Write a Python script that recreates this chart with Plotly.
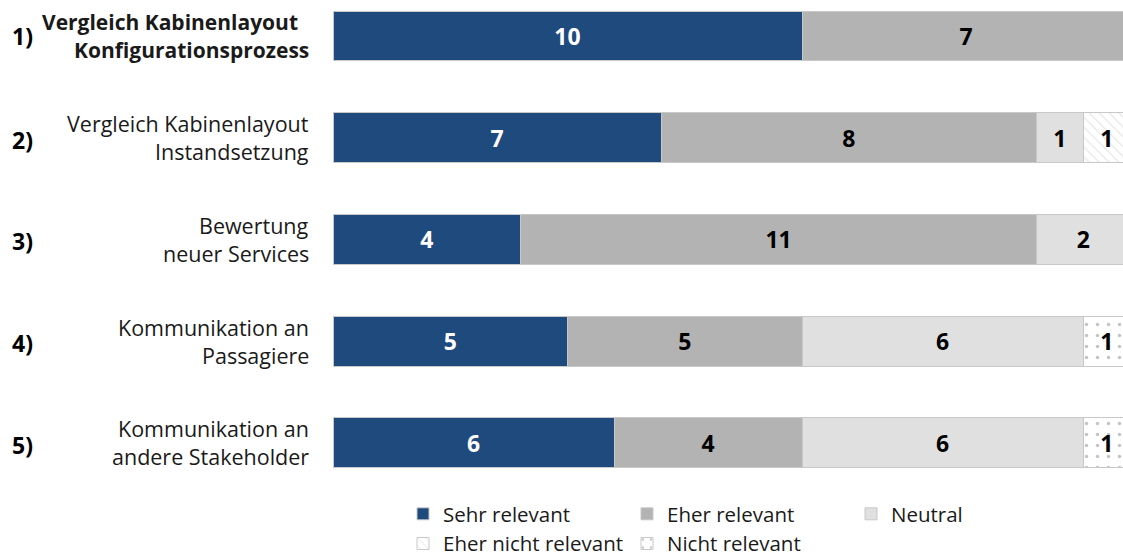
import plotly.graph_objects as go

numbers = ["1)", "2)", "3)", "4)", "5)"]
label_line1 = ["Vergleich Kabinenlayout", "Vergleich Kabinenlayout", "Bewertung",
               "Kommunikation an", "Kommunikation an"]
label_line2 = ["Konfigurationsprozess", "Instandsetzung", "neuer Services",
               "Passagiere", "andere Stakeholder"]

series_names = ["Sehr relevant", "Eher relevant", "Neutral",
                "Eher nicht relevant", "Nicht relevant"]
sehr_relevant = [10, 7, 4, 5, 6]
eher_relevant = [7, 8, 11, 5, 4]
neutral = [0, 1, 2, 6, 6]
eher_nicht_relevant = [0, 1, 0, 0, 0]
nicht_relevant = [0, 0, 0, 1, 1]
values = [sehr_relevant, eher_relevant, neutral, eher_nicht_relevant, nicht_relevant]

colors = ["#1f4a7e", "#b3b3b3", "#e0e0e0", "#ffffff", "#ffffff"]
text_colors = ["#ffffff", "#000000", "#000000", "#000000", "#000000"]
patterns = [None, None, None,
            dict(shape="\\", fgcolor="#c4c4c4", bgcolor="#ffffff", size=7, solidity=0.15),
            dict(shape=".", fgcolor="#8a8a8a", bgcolor="#ffffff", size=11, solidity=0.08)]

FONT = "Open Sans, Noto Sans, sans-serif"
W, H = 1123, 554
LEFT = 333
PLOT_BOTTOM = 470
PLOT_W = W - LEFT

fig = go.Figure()
ypos = list(range(len(numbers)))
for name, vals, col, tcol, pat in zip(series_names, values, colors, text_colors, patterns):
    marker = dict(color=col, line=dict(color="#c8c8c8", width=1))
    if pat:
        marker["pattern"] = pat
    fig.add_trace(go.Bar(
        name=name, y=ypos, x=vals, orientation="h", width=0.49,
        marker=marker,
        text=[str(v) if v else "" for v in vals],
        textposition="inside", insidetextanchor="middle",
        textfont=dict(family=FONT, size=23, color=tcol, weight="bold"),
        hoverinfo="skip",
    ))

# category labels (two lines each), right aligned left of plot
for i in ypos:
    bold = i == 0
    for j, (line, shift) in enumerate(((label_line1[i], 14), (label_line2[i], -14))):
        fig.add_annotation(
            x=0, xref="paper", y=i, yref="y", xanchor="right", yanchor="middle",
            xshift=(-33 if (bold and j == 0) else -22), yshift=shift, showarrow=False,
            text=f"<b>{line}</b>" if bold else line,
            font=dict(family=FONT, size=(21 if bold else 21.5), color="#1a1a1a"),
        )
    fig.add_annotation(
        x=0, xref="paper", y=i, yref="y", xanchor="left", yanchor="middle",
        xshift=-(LEFT - 10), yshift=(0 if i == 0 else -2), showarrow=False,
        text=f"<b>{numbers[i]}</b>",
        font=dict(family=FONT, size=23, color="#000000"),
    )

px_per_unit = 101.7
first_center = 36
top_val = -first_center / px_per_unit
bot_val = (PLOT_BOTTOM - first_center) / px_per_unit

legend_top = 494

fig.update_layout(
    width=W, height=H, barmode="stack",
    margin=dict(l=LEFT, r=0, t=0, b=H - PLOT_BOTTOM, autoexpand=False),
    plot_bgcolor="white", paper_bgcolor="white",
    font=dict(family=FONT, size=21, color="#1a1a1a"),
    xaxis=dict(range=[0, PLOT_W / 46.9], showgrid=False, zeroline=False,
               showticklabels=False, ticks="", showline=False, fixedrange=True),
    yaxis=dict(range=[bot_val, top_val], showgrid=False, zeroline=False,
               showticklabels=False, ticks="", showline=False, fixedrange=True),
    showlegend=True,
    legend=dict(orientation="h", x=70 / PLOT_W, xanchor="left",
                y=-(legend_top - PLOT_BOTTOM) / PLOT_BOTTOM, yanchor="top",
                entrywidth=179, entrywidthmode="pixels", traceorder="normal",
                font=dict(family=FONT, size=20.5, color="#1a1a1a"),
                bgcolor="rgba(0,0,0,0)", tracegroupgap=0),
)

fig.write_html(
    "out.html",
    config={"displayModeBar": False, "staticPlot": True},
    post_script="document.body.style.margin='0';document.body.style.overflow='hidden';",
)
